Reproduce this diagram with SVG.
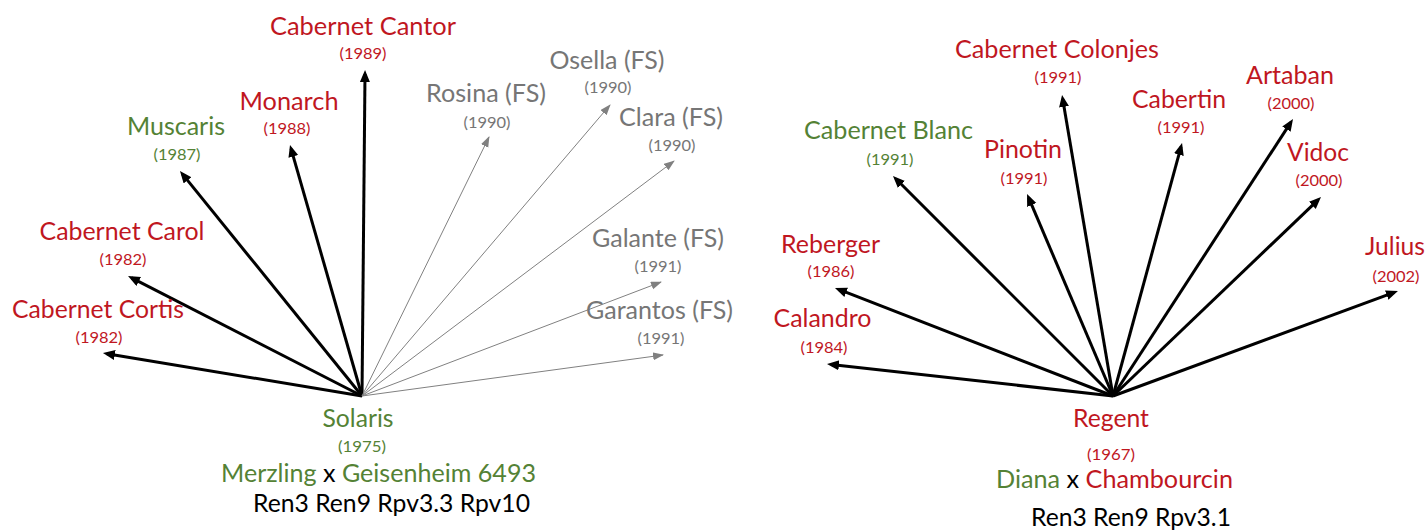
<svg xmlns="http://www.w3.org/2000/svg" width="1426" height="530" viewBox="0 0 1426 530">
<style>
text{font-family:Lato,"Open Sans","Liberation Sans",sans-serif;text-anchor:middle}
.n{font-size:25px}
.y{font-size:16px}
.r{fill:#C0171F}
.g{fill:#548235}
.s{fill:#767676}
.k{fill:#000}
.bl{stroke:#000;stroke-width:3;fill:none;marker-end:url(#hb)}
.gl{stroke:#808080;stroke-width:1;fill:none;marker-end:url(#hg)}
</style>
<defs>
<marker id="hb" markerUnits="userSpaceOnUse" markerWidth="14" markerHeight="12" refX="8" refY="5" orient="auto">
<path d="M0,0 L12,5 L0,10 z" fill="#000"/>
</marker>
<marker id="hg" markerUnits="userSpaceOnUse" markerWidth="12" markerHeight="10" refX="10" refY="4" orient="auto">
<path d="M0,0 L11,4 L0,8 z" fill="#808080"/>
</marker>
</defs>
<g id="connectors">
<line class="bl" x1="362" y1="396" x2="365" y2="74"/>
<line class="bl" x1="362" y1="396" x2="291.1" y2="148.8"/>
<line class="bl" x1="362" y1="396" x2="182.5" y2="174.1"/>
<line class="bl" x1="362" y1="396" x2="131.6" y2="277.8"/>
<line class="bl" x1="362" y1="396" x2="106.9" y2="353.7"/>
<line class="gl" x1="362" y1="396" x2="489" y2="137"/>
<line class="gl" x1="362" y1="396" x2="610" y2="105"/>
<line class="gl" x1="362" y1="396" x2="674" y2="161"/>
<line class="gl" x1="362" y1="396" x2="661" y2="282"/>
<line class="gl" x1="362" y1="396" x2="663" y2="355"/>
<line class="bl" x1="1113" y1="396" x2="831" y2="364.4"/>
<line class="bl" x1="1113" y1="396" x2="838.7" y2="289.4"/>
<line class="bl" x1="1113" y1="396" x2="895.8" y2="178.8"/>
<line class="bl" x1="1113" y1="396" x2="1028.6" y2="197.7"/>
<line class="bl" x1="1113" y1="396" x2="1062.7" y2="98.9"/>
<line class="bl" x1="1113" y1="396" x2="1181" y2="146.9"/>
<line class="bl" x1="1113" y1="396" x2="1290.8" y2="122.4"/>
<line class="bl" x1="1113" y1="396" x2="1318.1" y2="199.8"/>
<line class="bl" x1="1113" y1="396" x2="1394.2" y2="292.4"/>
</g>
<g id="cabernet-cantor"><text class="n r" x="363" y="35" textLength="186" lengthAdjust="spacingAndGlyphs">Cabernet Cantor</text><text class="y r" x="363" y="59" textLength="47" lengthAdjust="spacingAndGlyphs">(1989)</text></g>
<g id="monarch"><text class="n r" x="289" y="110" textLength="99" lengthAdjust="spacingAndGlyphs">Monarch</text><text class="y r" x="287" y="134" textLength="47" lengthAdjust="spacingAndGlyphs">(1988)</text></g>
<g id="muscaris"><text class="n g" x="176" y="135" textLength="98" lengthAdjust="spacingAndGlyphs">Muscaris</text><text class="y g" x="177" y="160" textLength="47" lengthAdjust="spacingAndGlyphs">(1987)</text></g>
<g id="cabernet-carol"><text class="n r" x="122" y="240" textLength="165" lengthAdjust="spacingAndGlyphs">Cabernet Carol</text><text class="y r" x="123" y="265" textLength="47" lengthAdjust="spacingAndGlyphs">(1982)</text></g>
<g id="cabernet-cortis"><text class="n r" x="98" y="318" textLength="172" lengthAdjust="spacingAndGlyphs">Cabernet Cortis</text><text class="y r" x="99" y="343" textLength="47" lengthAdjust="spacingAndGlyphs">(1982)</text></g>
<g id="rosina"><text class="n s" x="486" y="102" textLength="120" lengthAdjust="spacingAndGlyphs">Rosina (FS)</text><text class="y s" x="487" y="128" textLength="47" lengthAdjust="spacingAndGlyphs">(1990)</text></g>
<g id="osella"><text class="n s" x="607" y="69" textLength="115" lengthAdjust="spacingAndGlyphs">Osella (FS)</text><text class="y s" x="608" y="93" textLength="47" lengthAdjust="spacingAndGlyphs">(1990)</text></g>
<g id="clara"><text class="n s" x="671" y="126" textLength="104" lengthAdjust="spacingAndGlyphs">Clara (FS)</text><text class="y s" x="672" y="151" textLength="47" lengthAdjust="spacingAndGlyphs">(1990)</text></g>
<g id="galante"><text class="n s" x="658" y="247" textLength="132" lengthAdjust="spacingAndGlyphs">Galante (FS)</text><text class="y s" x="658" y="272" textLength="47" lengthAdjust="spacingAndGlyphs">(1991)</text></g>
<g id="garantos"><text class="n s" x="659.5" y="319" textLength="147" lengthAdjust="spacingAndGlyphs">Garantos (FS)</text><text class="y s" x="661" y="344" textLength="47" lengthAdjust="spacingAndGlyphs">(1991)</text></g>
<g id="solaris"><text class="n g" x="358" y="427" textLength="71" lengthAdjust="spacingAndGlyphs">Solaris</text><text class="y g" x="362" y="452" textLength="48" lengthAdjust="spacingAndGlyphs">(1975)</text><text class="n" x="378.5" y="482" textLength="315" lengthAdjust="spacingAndGlyphs"><tspan class="g">Merzling</tspan><tspan class="k"> x </tspan><tspan class="g">Geisenheim 6493</tspan></text><text class="n k" x="391.5" y="512" textLength="277" lengthAdjust="spacingAndGlyphs">Ren3 Ren9 Rpv3.3 Rpv10</text></g>
<g id="cabernet-colonjes"><text class="n r" x="1057" y="58" textLength="204" lengthAdjust="spacingAndGlyphs">Cabernet Colonjes</text><text class="y r" x="1058" y="83" textLength="47" lengthAdjust="spacingAndGlyphs">(1991)</text></g>
<g id="cabernet-blanc"><text class="n g" x="888.5" y="139" textLength="169" lengthAdjust="spacingAndGlyphs">Cabernet Blanc</text><text class="y g" x="890" y="165" textLength="47" lengthAdjust="spacingAndGlyphs">(1991)</text></g>
<g id="pinotin"><text class="n r" x="1023" y="158" textLength="78" lengthAdjust="spacingAndGlyphs">Pinotin</text><text class="y r" x="1024" y="184" textLength="47" lengthAdjust="spacingAndGlyphs">(1991)</text></g>
<g id="cabertin"><text class="n r" x="1179" y="108" textLength="94" lengthAdjust="spacingAndGlyphs">Cabertin</text><text class="y r" x="1181" y="133" textLength="47" lengthAdjust="spacingAndGlyphs">(1991)</text></g>
<g id="artaban"><text class="n r" x="1290" y="84" textLength="88" lengthAdjust="spacingAndGlyphs">Artaban</text><text class="y r" x="1291" y="109" textLength="47" lengthAdjust="spacingAndGlyphs">(2000)</text></g>
<g id="vidoc"><text class="n r" x="1318" y="161" textLength="62" lengthAdjust="spacingAndGlyphs">Vidoc</text><text class="y r" x="1319" y="186" textLength="47" lengthAdjust="spacingAndGlyphs">(2000)</text></g>
<g id="julius"><text class="n r" x="1395" y="255" textLength="60" lengthAdjust="spacingAndGlyphs">Julius</text><text class="y r" x="1396" y="282" textLength="47" lengthAdjust="spacingAndGlyphs">(2002)</text></g>
<g id="reberger"><text class="n r" x="830.5" y="253" textLength="99" lengthAdjust="spacingAndGlyphs">Reberger</text><text class="y r" x="831" y="277" textLength="47" lengthAdjust="spacingAndGlyphs">(1986)</text></g>
<g id="calandro"><text class="n r" x="822.5" y="327" textLength="98" lengthAdjust="spacingAndGlyphs">Calandro</text><text class="y r" x="824" y="353" textLength="47" lengthAdjust="spacingAndGlyphs">(1984)</text></g>
<g id="regent"><text class="n r" x="1111" y="427" textLength="76" lengthAdjust="spacingAndGlyphs">Regent</text><text class="y r" x="1111" y="460" textLength="48" lengthAdjust="spacingAndGlyphs">(1967)</text><text class="n" x="1114.5" y="488" textLength="237" lengthAdjust="spacingAndGlyphs"><tspan class="g">Diana</tspan><tspan class="k"> x </tspan><tspan class="r">Chambourcin</tspan></text><text class="n k" x="1131" y="526" textLength="200" lengthAdjust="spacingAndGlyphs">Ren3 Ren9 Rpv3.1</text></g>
</svg>
